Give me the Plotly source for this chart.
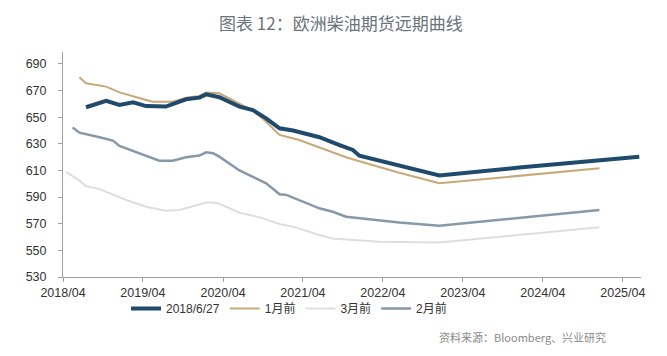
import plotly.graph_objects as go

# ---- data ----
dark_dates = ["2018-07-15", "2018-10-15", "2018-12-15", "2019-02-15", "2019-04-15", "2019-07-15",
              "2019-10-15", "2019-12-15", "2020-01-15", "2020-03-15", "2020-06-15", "2020-08-15",
              "2020-10-15", "2020-12-15", "2021-02-15", "2021-06-15", "2021-09-15", "2021-11-15",
              "2021-12-15", "2022-03-15", "2022-06-15", "2022-12-15", "2023-12-15", "2024-12-15",
              "2025-06-15"]
dark_vals = [657.5, 662.4, 659.2, 661.2, 658.4, 658.0,
             663.5, 664.7, 667.2, 665.0, 658.0, 655.4,
             649.2, 641.7, 640.0, 635.0, 629.1, 625.4,
             621.1, 617.4, 613.6, 606.3, 612.2, 617.7,
             620.4]

gold_dates = ["2018-06-15", "2018-07-15", "2018-10-15", "2018-12-15", "2019-03-15", "2019-05-15",
              "2019-08-15", "2019-10-15", "2019-12-15", "2020-01-15", "2020-03-15", "2020-06-15",
              "2020-08-15", "2020-10-15", "2020-12-15", "2021-03-15", "2021-07-15", "2021-10-15",
              "2022-01-15", "2022-06-15", "2022-12-15", "2024-12-15"]
gold_vals = [680.0, 675.5, 673.0, 668.7, 664.5, 661.7,
             661.7, 664.7, 666.0, 668.5, 668.0, 660.5,
             655.0, 646.6, 636.7, 632.9, 625.4, 619.9,
             615.5, 608.3, 600.4, 611.6]

m3_dates = ["2018-04-15", "2018-05-15", "2018-06-15", "2018-07-15", "2018-09-15", "2019-01-15",
            "2019-04-15", "2019-07-15", "2019-09-15", "2019-12-15", "2020-01-15", "2020-02-15",
            "2020-03-15", "2020-06-15", "2020-09-15", "2020-12-15", "2021-02-15", "2021-06-15",
            "2021-08-15", "2021-11-15", "2022-03-15", "2022-12-15", "2024-12-15"]
m3_vals = [609.0, 606.0, 602.4, 598.3, 596.0, 587.8,
           582.8, 579.8, 580.3, 584.5, 586.0, 586.0,
           585.0, 578.3, 574.8, 569.8, 567.8, 561.5,
           559.0, 557.8, 556.5, 556.0, 567.3]

m2_dates = ["2018-05-15", "2018-06-15", "2018-09-15", "2018-11-15", "2018-12-15", "2019-03-15",
            "2019-06-15", "2019-08-15", "2019-10-15", "2019-12-15", "2020-01-15", "2020-02-15",
            "2020-03-15", "2020-06-15", "2020-10-15", "2020-12-15", "2021-01-15", "2021-06-15",
            "2021-08-15", "2021-10-15", "2022-06-15", "2022-12-15", "2024-12-15"]
m2_vals = [642.2, 638.4, 635.0, 632.5, 628.4, 622.8,
           617.4, 617.4, 620.0, 621.2, 623.6, 623.0,
           620.4, 610.0, 600.4, 592.1, 591.7, 581.6,
           579.0, 575.3, 571.0, 568.5, 580.3]

tick_vals = ["2018-04-01", "2019-04-01", "2020-04-01", "2021-04-01",
             "2022-04-01", "2023-04-01", "2024-04-01", "2025-04-01"]
tick_text = ["2018/04", "2019/04", "2020/04", "2021/04",
             "2022/04", "2023/04", "2024/04", "2025/04"]
y_ticks = [530, 550, 570, 590, 610, 630, 650, 670, 690]

names = ["2018/6/27", "1月前", "3月前", "2月前"]
title_text = "图表 12：欧洲柴油期货远期曲线"
source_text = "资料来源：Bloomberg、兴业研究"

fig = go.Figure()
fig.add_trace(go.Scatter(x=gold_dates, y=gold_vals, mode="lines", name=names[1],
                         line=dict(color="#c9a877", width=2), legendrank=2))
fig.add_trace(go.Scatter(x=m3_dates, y=m3_vals, mode="lines", name=names[2],
                         line=dict(color="#dedede", width=2), legendrank=3))
fig.add_trace(go.Scatter(x=m2_dates, y=m2_vals, mode="lines", name=names[3],
                         line=dict(color="#8798aa", width=2.5), legendrank=4))
fig.add_trace(go.Scatter(x=dark_dates, y=dark_vals, mode="lines", name=names[0],
                         line=dict(color="#1f4a6b", width=4), legendrank=1))

font_main = "Liberation Sans, Noto Sans CJK SC, sans-serif"

# the page adds an 8px body margin, so the figure is 8px smaller and margins shifted
fig.update_layout(
    width=659, height=348,
    paper_bgcolor="white", plot_bgcolor="white",
    margin=dict(l=55, r=26, t=44, b=79),
    font=dict(family=font_main, size=12, color="#333333"),
    showlegend=True,
    legend=dict(orientation="h", x=0.109, xanchor="left", y=-0.14, yanchor="middle",
                font=dict(family=font_main, size=12, color="#333333"),
                itemwidth=30, traceorder="normal", bgcolor="rgba(0,0,0,0)"),
    xaxis=dict(type="date", range=["2018-04-01", "2025-06-23"],
               tickmode="array", tickvals=tick_vals, ticktext=tick_text,
               showgrid=False, zeroline=False, showline=True, linecolor="#a0a0a0",
               linewidth=1, ticks="outside", ticklen=4, tickcolor="#a0a0a0",
               tickfont=dict(size=12.5, color="#333333")),
    yaxis=dict(range=[530, 699], tickmode="array", tickvals=y_ticks,
               showgrid=False, zeroline=False, showline=True, linecolor="#a0a0a0",
               linewidth=1, ticks="outside", ticklen=4, tickcolor="#a0a0a0",
               ticklabelstandoff=9,
               tickfont=dict(size=12.5, color="#333333")),
)

# plot area in page pixels: x 63..641, y 52..277
fig.add_annotation(text=title_text, xref="paper", yref="paper",
                   x=(341 - 63) / 578, xanchor="center", y=(277 - 22) / 225, yanchor="middle",
                   showarrow=False,
                   font=dict(family="Noto Sans CJK SC, sans-serif", size=17, color="#6b737b"))

fig.add_annotation(text=source_text, xref="paper", yref="paper",
                   x=(608 - 63) / 578, xanchor="right", y=(277 - 337) / 225, yanchor="middle",
                   showarrow=False,
                   font=dict(family="Noto Sans CJK SC, sans-serif", size=11, color="#8a8a8a"))

fig.write_html("out.html")
